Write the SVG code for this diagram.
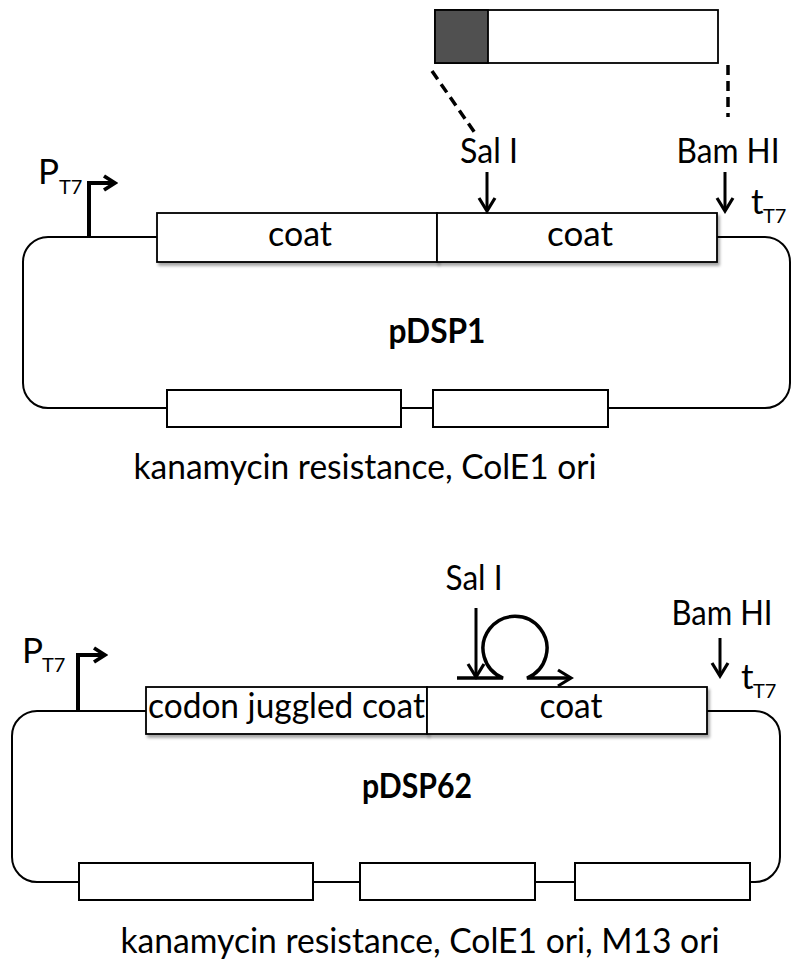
<svg xmlns="http://www.w3.org/2000/svg" width="800" height="969" viewBox="0 0 800 969">
<style>
text{font-family:Lato,"Liberation Sans",sans-serif;fill:#000}
.lbl{font-size:35px}
.sub{font-size:20px}
.bold{font-size:35px;font-weight:bold}
.loop{fill:none;stroke:#000;stroke-width:2}
.box{fill:#fff;stroke:#000;stroke-width:2}
.gene{fill:#fff;stroke:#000;stroke-width:1.8;filter:url(#sh)}
.arr{fill:none;stroke:#000;stroke-width:3;marker-end:url(#ah)}
.omega{fill:none;stroke:#000;stroke-width:3.5;marker-end:url(#ah)}
.prom{fill:none;stroke:#000;stroke-width:4;marker-end:url(#ahp)}
.dash{fill:none;stroke:#000;stroke-width:3.5;stroke-dasharray:10 6}
</style>
<defs>
<filter id="sh" x="-5%" y="-20%" width="115%" height="150%">
<feDropShadow dx="2" dy="3" stdDeviation="1.5" flood-color="#000" flood-opacity="0.35"/>
</filter>
<marker id="ah" viewBox="0 0 18 20" refX="15" refY="10" markerWidth="18" markerHeight="20" markerUnits="userSpaceOnUse" orient="auto">
<path d="M2,2 L15,10 L2,18" fill="none" stroke="#000" stroke-width="3.2"/>
</marker>
<marker id="ahp" viewBox="0 0 16 18" refX="13" refY="9" markerWidth="16" markerHeight="18" markerUnits="userSpaceOnUse" orient="auto">
<path d="M2,2 L13,9 L2,16" fill="none" stroke="#000" stroke-width="3.8"/>
</marker>
</defs>

<!-- pDSP1 -->
<g id="pDSP1-backbone"><rect class="loop" x="23" y="237" width="767" height="171" rx="25"/></g>
<g id="insert">
<rect x="435" y="10" width="283" height="53" fill="#fff" stroke="#000" stroke-width="1.8"/>
<rect x="435" y="10" width="53" height="53" fill="#505050" stroke="#000" stroke-width="1.8"/>
</g>
<g id="pDSP1-coat1"><rect class="gene" x="157" y="213" width="280" height="49"/><text class="lbl" x="300" y="246" text-anchor="middle" textLength="64" lengthAdjust="spacingAndGlyphs">coat</text></g>
<g id="pDSP1-coat2"><rect class="gene" x="437" y="213" width="280" height="49"/><text class="lbl" x="580" y="246" text-anchor="middle" textLength="66" lengthAdjust="spacingAndGlyphs">coat</text></g>
<g id="pDSP1-kan"><rect class="box" x="167" y="390" width="234" height="37"/></g>
<g id="pDSP1-ori"><rect class="box" x="433" y="390" width="175" height="37"/></g>
<g id="pDSP1-labels">
<text class="lbl" x="38" y="184">P<tspan class="sub" x="59" y="194">T7</tspan></text>
<text class="lbl" x="489" y="163" text-anchor="middle" textLength="58" lengthAdjust="spacingAndGlyphs">Sal I</text>
<text class="lbl" x="728" y="163" text-anchor="middle" textLength="103" lengthAdjust="spacingAndGlyphs">Bam HI</text>
<text class="lbl" x="751" y="214">t<tspan class="sub" x="763" y="223">T7</tspan></text>
<text class="bold" x="437" y="343" text-anchor="middle" textLength="97" lengthAdjust="spacingAndGlyphs">pDSP1</text>
<text class="lbl" x="365" y="479" text-anchor="middle" textLength="463" lengthAdjust="spacingAndGlyphs">kanamycin resistance, ColE1 ori</text>
</g>

<!-- pDSP62 -->
<g id="pDSP62-backbone"><rect class="loop" x="12" y="711" width="768" height="171" rx="25"/></g>
<g id="pDSP62-cjcoat"><rect class="gene" x="146" y="687" width="281" height="47"/><text class="lbl" x="148" y="718" textLength="277" lengthAdjust="spacingAndGlyphs">codon juggled coat</text></g>
<g id="pDSP62-coat"><rect class="gene" x="427" y="687" width="280" height="47"/><text class="lbl" x="571" y="718" text-anchor="middle" textLength="63" lengthAdjust="spacingAndGlyphs">coat</text></g>
<g id="pDSP62-kan"><rect class="box" x="79" y="863" width="234" height="37"/></g>
<g id="pDSP62-cole1"><rect class="box" x="360" y="863" width="175" height="37"/></g>
<g id="pDSP62-m13"><rect class="box" x="575" y="863" width="175" height="37"/></g>
<g id="pDSP62-labels">
<text class="lbl" x="22" y="663">P<tspan class="sub" x="42" y="672">T7</tspan></text>
<text class="lbl" x="474" y="590" text-anchor="middle" textLength="57" lengthAdjust="spacingAndGlyphs">Sal I</text>
<text class="lbl" x="722" y="625" text-anchor="middle" textLength="101" lengthAdjust="spacingAndGlyphs">Bam HI</text>
<text class="lbl" x="741" y="689">t<tspan class="sub" x="753" y="698">T7</tspan></text>
<text class="bold" x="417" y="798" text-anchor="middle" textLength="110" lengthAdjust="spacingAndGlyphs">pDSP62</text>
<text class="lbl" x="420" y="953" text-anchor="middle" textLength="599" lengthAdjust="spacingAndGlyphs">kanamycin resistance, ColE1 ori, M13 ori</text>
</g>

<g id="connectors">
<path class="prom" d="M89,237 V183 H115"/>
<path class="arr" d="M487,172 V211"/>
<path class="arr" d="M725,172 V211"/>
<path class="dash" d="M432,71 L477,136"/>
<path class="dash" d="M728,65 V117"/>
<path class="prom" d="M78,711 V655 H105"/>
<path class="arr" d="M476,608 V677"/>
<path class="arr" d="M720,638 V676"/>
<path class="omega" d="M457,678 H503 A32,32 0 1 1 527,678 H571"/>
</g>
</svg>
